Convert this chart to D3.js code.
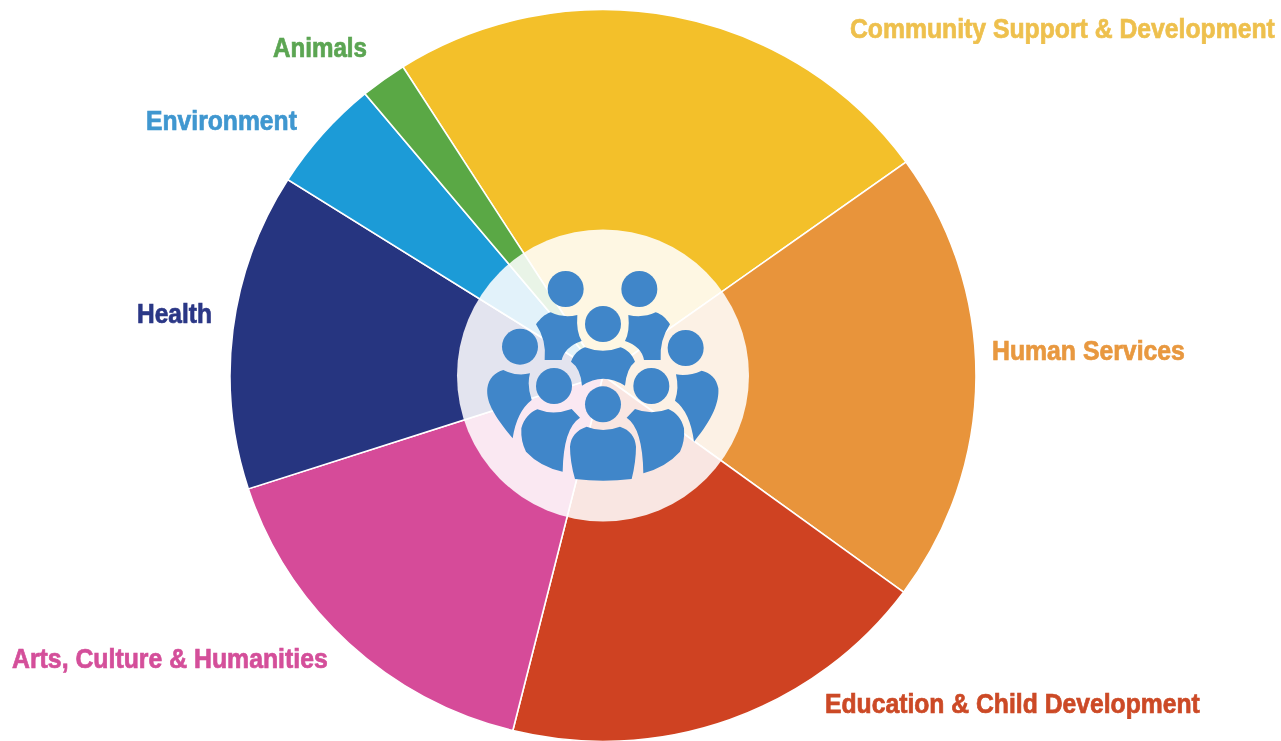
<!DOCTYPE html>
<html>
<head>
<meta charset="utf-8">
<script src="https://cdn.jsdelivr.net/npm/d3@7"></script>
<style>
html,body{margin:0;padding:0;background:#fff;overflow:hidden}
svg{display:block}
text{font-family:"Liberation Sans",sans-serif;font-weight:700}
</style>
</head>
<body>
<svg id="c" width="1281" height="741"></svg>
<script>
const categories = ["Community Support & Development","Human Services","Education & Child Development","Arts, Culture & Humanities","Health","Environment","Animals"];
const shares = [24.1,20.0,18.8,16.1,14.0,5.0,2.0];
const colors = ["#f3c02a","#e8943a","#cf4320","#d64c99","#283480","#1f9bd7","#5aa845"];
const textColors = ["#eec04e","#e8983f","#cc4a26","#d44f9a","#2c3786","#3f97d0","#5ba552"];
// label box: left x, right x, baseline y
const labelBoxes = [[850,1275,38],[992,1185,360],[825,1200,713],[12,328,668],[137,212,323],[146,297,130],[273,367,57]];

const cx=603,cy=375.5,R=373,squash=0.981,hubR=146;
const svg=d3.select("#c");
const defs=svg.append("defs");
defs.append("filter").attr("id","soft").append("feGaussianBlur").attr("stdDeviation",0.6);

const startDeg=-32.45;
const pie=d3.pie().sort(null).value(d=>d).startAngle(startDeg*Math.PI/180).endAngle((360+startDeg)*Math.PI/180);
const arc=d3.arc().innerRadius(0).outerRadius(R);
const g=svg.append("g").attr("filter","url(#soft)");
g.append("g").attr("transform",`translate(${cx},${cy}) scale(1,${squash})`)
  .selectAll("path.wedge").data(pie(shares)).join("path")
  .attr("class","wedge").attr("d",arc).attr("fill",(d,i)=>colors[i])
  .attr("stroke","#fff").attr("stroke-width",1.6);
g.append("circle").attr("cx",cx).attr("cy",cy).attr("r",hubR).attr("fill","#fff").attr("fill-opacity",0.87);

// people icon (drawn in the 3x space of the hub crop)
const icon=svg.append("g").attr("transform","translate(450,225) scale(0.33333)").attr("fill","#3f86c9").attr("filter","url(#soft)");
const heads=[[347,192],[568,192],[459,297],[210,365],[707,369],[312,483],[604,483],[459,538]];
icon.selectAll("circle").data(heads).join("circle").attr("cx",d=>d[0]).attr("cy",d=>d[1]).attr("r",54);
const bodies=[
"M258 298C272 280 284 268 302 262Q340 280 382 270Q378 320 395 348Q345 365 335 405L284 405Q290 345 258 298Z",
"M660 298C648 280 636 268 617 262Q578 280 535 270Q540 320 525 348Q575 365 582 405L632 405Q628 345 660 298Z",
"M363 410C372 388 385 374 405 367Q459 388 512 367C532 374 546 388 555 410Q530 430 525 482Q459 440 396 482Q392 430 363 410Z",
"M188 640C130 570 108 530 112 490C116 460 135 442 160 435Q200 455 240 445Q230 480 245 525Q200 560 188 640Z",
"M732 650C790 580 808 530 805 490C800 460 782 444 755 437Q715 455 678 448Q688 490 675 527Q720 560 732 650Z",
"M214 610C222 580 240 562 262 553Q310 572 365 552L390 578Q340 610 338 740Q270 725 228 680Q212 650 214 610Z",
"M702 610C695 580 678 562 655 552Q605 572 555 552L530 578Q578 610 580 745Q650 725 690 680Q705 650 702 610Z",
"M360 665C362 635 380 615 410 605Q459 625 510 605C540 615 556 635 558 665Q558 710 545 762Q459 772 375 762Q360 710 360 665Z"];
icon.selectAll("path").data(bodies).join("path").attr("d",d=>d);

svg.append("g").attr("filter","url(#soft)").selectAll("text").data(categories).join("text")
  .attr("font-size",27).attr("fill",(d,i)=>textColors[i])
  .attr("stroke",(d,i)=>textColors[i]).attr("stroke-width",0.7).text(d=>d)
  .attr("transform",function(d,i){
    const b=labelBoxes[i], sx=(b[1]-b[0])/this.getComputedTextLength();
    return `translate(${b[0]},${b[2]}) scale(${sx},1)`;
  });
</script>
</body>
</html>
